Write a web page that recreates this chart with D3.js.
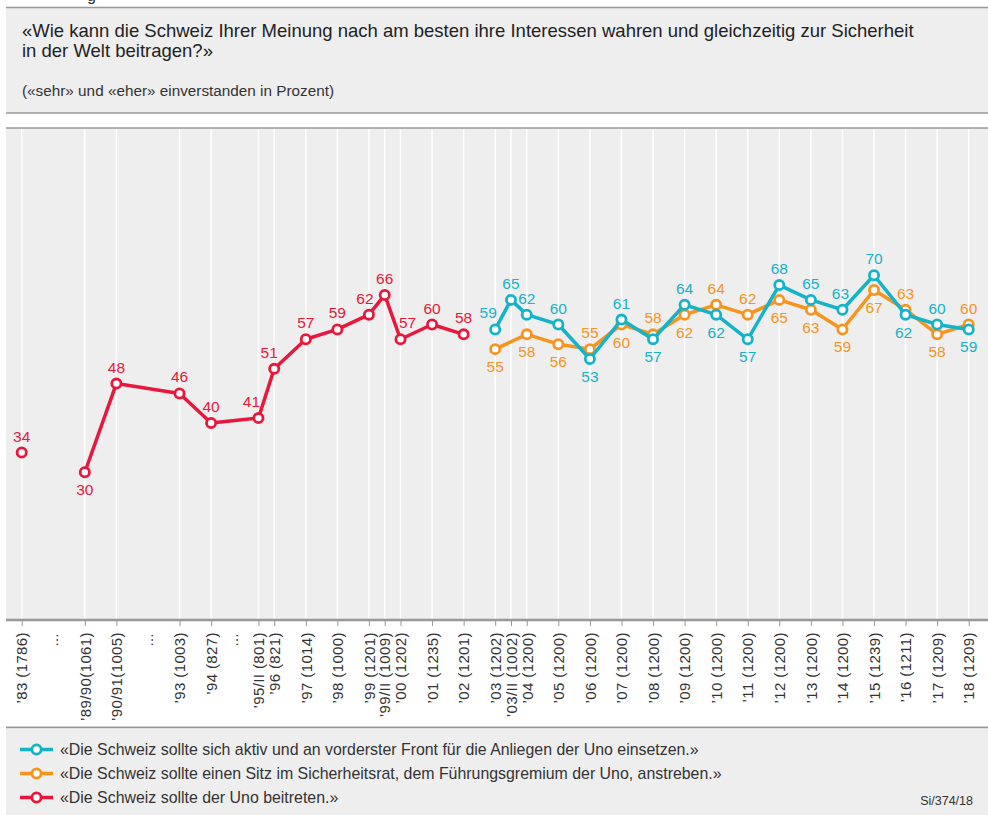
<!DOCTYPE html>
<html>
<head>
<meta charset="utf-8">
<script src="https://cdn.jsdelivr.net/npm/d3@7"></script>
<style>
  html, body { margin: 0; padding: 0; background: #ffffff; }
  svg { display: block; font-family: "Liberation Sans", Arial, Helvetica, sans-serif; }
</style>
</head>
<body>
<svg id="chart" width="988" height="815"></svg>
<script>
// ---------------- DATA ----------------
const titleLines = [
  "«Wie kann die Schweiz Ihrer Meinung nach am besten ihre Interessen wahren und gleichzeitig zur Sicherheit",
  "in der Welt beitragen?»"
];
const subtitle = "(«sehr» und «eher» einverstanden in Prozent)";
const sourceNote = "Si/374/18";

// survey periods, with their sample sizes (x axis tick labels)
const periods = ["’83", "’89/90", "’90/91", "’93", "’94", "’95/II", "’96", "’97", "’98", "’99", "’99/II", "’00",
  "’01", "’02", "’03", "’03/II", "’04", "’05", "’06", "’07", "’08", "’09", "’10", "’11", "’12", "’13", "’14",
  "’15", "’16", "’17", "’18"];
const tickLabels = ["’83 (1786)", "’89/90(1061)", "’90/91(1005)", "’93 (1003)", "’94 (827)", "’95/II (801)",
  "’96 (821)", "’97 (1014)", "’98 (1000)", "’99 (1201)", "’99/II (1009)", "’00 (1202)", "’01 (1235)",
  "’02 (1201)", "’03 (1202)", "’03/II (1002)", "’04 (1200)", "’05 (1200)", "’06 (1200)", "’07 (1200)",
  "’08 (1200)", "’09 (1200)", "’10 (1200)", "’11 (1200)", "’12 (1200)", "’13 (1200)", "’14 (1200)",
  "’15 (1239)", "’16 (1211)", "’17 (1209)", "’18 (1209)"];
// position of each survey on the (compressed) time axis
const periodSlots = [0, 2, 3, 5, 6, 7.5, 8, 9, 10, 11, 11.5, 12, 13, 14, 15, 15.5, 16, 17, 18, 19, 20, 21, 22,
  23, 24, 25, 26, 27, 28, 29, 30];
// axis gaps marked with an ellipsis
const gapSlots = [1.1, 4.1, 6.8];

const seriesNames = [
  "«Die Schweiz sollte sich aktiv und an vorderster Front für die Anliegen der Uno einsetzen.»",
  "«Die Schweiz sollte einen Sitz im Sicherheitsrat, dem Führungsgremium der Uno, anstreben.»",
  "«Die Schweiz sollte der Uno beitreten.»"
];
const _ = null;
const activeValues = [_, _, _, _, _, _, _, _, _, _, _, _, _, _,
  59, 65, 62, 60, 53, 61, 57, 64, 62, 57, 68, 65, 63, 70, 62, 60, 59];
const councilValues = [_, _, _, _, _, _, _, _, _, _, _, _, _, _,
  55, _, 58, 56, 55, 60, 58, 62, 64, 62, 65, 63, 59, 67, 63, 58, 60];
const joinValues = [34, 30, 48, 46, 40, 41, 51, 57, 59, 62, 66, 57, 60, 58,
  _, _, _, _, _, _, _, _, _, _, _, _, _, _, _, _, _];
// the joining line is interrupted after these periods
const joinBreaksAfter = ["’83"];

// label placement: a = above point, b = below point
const activePlace = [_, _, _, _, _, _, _, _, _, _, _, _, _, _,
  "a", "a", "a", "a", "b", "a", "b", "a", "b", "b", "a", "a", "a", "a", "b", "a", "b"];
const councilPlace = [_, _, _, _, _, _, _, _, _, _, _, _, _, _,
  "b", _, "b", "b", "a", "b", "a", "b", "a", "a", "b", "b", "b", "b", "a", "b", "a"];
const joinPlace = ["a", "b", "a", "a", "a", "a", "a", "a", "a", "a", "a", "a", "a", "a",
  _, _, _, _, _, _, _, _, _, _, _, _, _, _, _, _, _];

// ---------------- STYLE ----------------
const colors = ["#14b3c9", "#f7941d", "#e8173b"];
const labelNudge = { // horizontal nudges for crowded labels (px)
  join: { "’95/II": -7, "’96": -5, "’99": -4, "’00": 7 },
  active: { "’03": -7, "’14": -2, "’16": -2 },
  council: {}
};
const W = 988, H = 815;
const plotTop = 128, plotBottom = 620, leftEdge = 6;
const bg = "#eeeeee", rule = "#999999", textCol = "#333333";

const svg = d3.select("#chart");

// ---------------- HEADER ----------------
svg.append("text").attr("x", 87).attr("y", 1).attr("font-size", 16).attr("fill", textCol).text("g");
svg.append("rect").attr("x", leftEdge).attr("y", 7.5).attr("width", W - leftEdge).attr("height", 105.5).attr("fill", bg);
svg.append("line").attr("x1", leftEdge).attr("x2", W).attr("y1", 7.5).attr("y2", 7.5).attr("stroke", rule).attr("stroke-width", 1.5);
svg.append("line").attr("x1", leftEdge).attr("x2", W).attr("y1", 113).attr("y2", 113).attr("stroke", rule).attr("stroke-width", 1.5);
titleLines.forEach((t, i) => {
  svg.append("text").attr("x", 22).attr("y", 37 + i * 19.5)
    .attr("font-size", 18.5).attr("fill", "#222").text(t);
});
svg.append("text").attr("x", 22).attr("y", 96).attr("font-size", 15.3).attr("fill", textCol).text(subtitle);

// ---------------- PLOT AREA ----------------
const x = d3.scaleLinear().domain([0, 30]).range([21.7, 968.7]);
const y = d3.scaleLinear().domain([0, 100]).range([plotBottom, 127.5]);

svg.append("rect").attr("x", leftEdge).attr("y", plotTop).attr("width", W - leftEdge)
  .attr("height", plotBottom - plotTop).attr("fill", bg);
svg.append("line").attr("x1", leftEdge).attr("x2", W).attr("y1", plotTop).attr("y2", plotTop)
  .attr("stroke", rule).attr("stroke-width", 1.5);

// vertical white grid lines
svg.append("g").selectAll("line").data(periodSlots).join("line")
  .attr("x1", d => x(d)).attr("x2", d => x(d))
  .attr("y1", plotTop + 1).attr("y2", plotBottom)
  .attr("stroke", "#ffffff").attr("stroke-width", 1.5);

// x axis
const xAxis = d3.axisBottom(x)
  .tickValues(periodSlots)
  .tickFormat((d, i) => tickLabels[i])
  .tickSize(6).tickSizeOuter(0);
const ax = svg.append("g").attr("transform", `translate(0,${plotBottom})`).call(xAxis);
ax.select(".domain").remove();
ax.selectAll(".tick line").attr("stroke", rule).attr("stroke-width", 1);
ax.selectAll(".tick text")
  .attr("transform", "rotate(-90)")
  .attr("x", -12).attr("y", 0).attr("dy", "0.35em")
  .attr("text-anchor", "end")
  .attr("font-size", 15).attr("letter-spacing", "0.4px")
  .attr("font-family", "\"Liberation Sans\", Arial, sans-serif")
  .attr("fill", textCol);
svg.append("line").attr("x1", leftEdge).attr("x2", W).attr("y1", plotBottom).attr("y2", plotBottom)
  .attr("stroke", rule).attr("stroke-width", 2.5);

// gap markers
svg.append("g").selectAll("text").data(gapSlots).join("text")
  .attr("transform", d => `translate(${x(d)},633) rotate(-90)`)
  .attr("text-anchor", "end").attr("dy", "0.1em")
  .attr("font-size", 14).attr("fill", textCol).text("…");

svg.append("line").attr("x1", leftEdge).attr("x2", W).attr("y1", 727.5).attr("y2", 727.5)
  .attr("stroke", rule).attr("stroke-width", 2);

// ---------------- SERIES ----------------
function buildPoints(values, places) {
  return values.map((v, i) => ({ v, i, place: places[i], period: periods[i], slot: periodSlots[i] }))
    .filter(d => d.v !== null);
}
const series = [
  { key: "join", pts: buildPoints(joinValues, joinPlace), color: colors[2], breaks: joinBreaksAfter },
  { key: "council", pts: buildPoints(councilValues, councilPlace), color: colors[1], breaks: [] },
  { key: "active", pts: buildPoints(activeValues, activePlace), color: colors[0], breaks: [] }
];
const line = d3.line().x(d => x(d.slot)).y(d => y(d.v));

series.forEach(s => {
  const segs = [];
  let cur = [];
  s.pts.forEach(p => {
    cur.push(p);
    if (s.breaks.includes(p.period)) { segs.push(cur); cur = []; }
  });
  if (cur.length) segs.push(cur);
  const g = svg.append("g");
  segs.filter(sg => sg.length > 1).forEach(sg => {
    g.append("path").datum(sg).attr("d", line)
      .attr("fill", "none").attr("stroke", s.color).attr("stroke-width", 3.5)
      .attr("stroke-linejoin", "round").attr("stroke-linecap", "round");
  });
  s.g = g;
});
series.forEach(s => {
  s.g.selectAll("circle").data(s.pts).join("circle")
    .attr("cx", d => x(d.slot)).attr("cy", d => y(d.v)).attr("r", 4.6)
    .attr("fill", "#ffffff").attr("stroke", s.color).attr("stroke-width", 2.8);
});
series.forEach(s => {
  s.g.selectAll("text.lbl").data(s.pts).join("text").attr("class", "lbl")
    .attr("x", d => x(d.slot) + (labelNudge[s.key][d.period] || 0))
    .attr("y", d => y(d.v) + (d.place === "a" ? -11 : 23))
    .attr("text-anchor", "middle").attr("font-size", 15.5).attr("fill", s.color)
    .text(d => d.v);
});

// ---------------- LEGEND ----------------
svg.append("rect").attr("x", leftEdge).attr("y", 728.5).attr("width", W - leftEdge).attr("height", H - 728.5).attr("fill", bg);
const legend = svg.append("g");
seriesNames.forEach((name, i) => {
  const ly = 749.5 + i * 24;
  legend.append("line").attr("x1", 20).attr("x2", 53).attr("y1", ly).attr("y2", ly)
    .attr("stroke", colors[i]).attr("stroke-width", 3.5);
  legend.append("circle").attr("cx", 36.5).attr("cy", ly).attr("r", 4.6)
    .attr("fill", "#ffffff").attr("stroke", colors[i]).attr("stroke-width", 2.8);
  legend.append("text").attr("x", 60).attr("y", ly + 5.5).attr("font-size", 15.9).attr("fill", textCol).text(name);
});
svg.append("text").attr("x", 973).attr("y", 805).attr("text-anchor", "end")
  .attr("font-size", 12.5).attr("fill", textCol).text(sourceNote);
</script>
</body>
</html>
